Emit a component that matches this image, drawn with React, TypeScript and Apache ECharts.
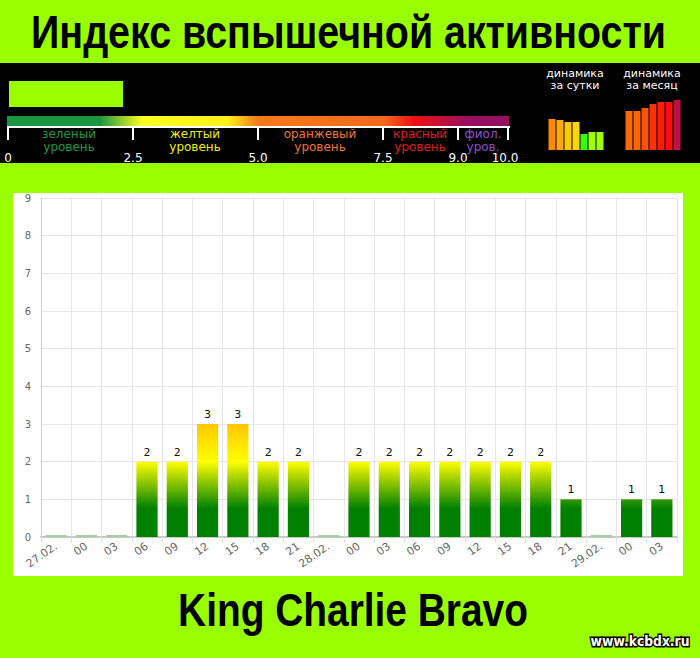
import React, { useEffect, useRef } from "react";
import * as echarts from "echarts";

// ---- data ----
const categories = ["27.02.", "00", "03", "06", "09", "12", "15", "18", "21", "28.02.", "00", "03", "06", "09", "12", "15", "18", "21", "29.02.", "00", "03"];
const flareValues = [0, 0, 0, 2, 2, 3, 3, 2, 2, 0, 2, 2, 2, 2, 2, 2, 2, 1, 0, 1, 1];
const yTicks = [0, 1, 2, 3, 4, 5, 6, 7, 8, 9];
const currentIndex = [2.28];
const dayDynamics = [31, 30, 28, 28, 16, 18, 18];
const dayColors = ["#ff8a00", "#ffaa00", "#ffc800", "#ffd700", "#33ff00", "#a0ff00", "#a0ff00"];
const monthDynamics = [39, 39, 42, 46, 48, 48, 51];
const monthColors = ["#ff6a00", "#ff6600", "#ff5200", "#ff3300", "#ff1e00", "#ff0c0c", "#c0104a"];
const scaleTicks = ["0", "2.5", "5.0", "7.5", "9.0", "10.0"];
const scaleTickX = [8, 133, 258, 383, 458, 508];
const levelNames = [
  { text: "зеленый\nуровень", color: "#1e9a44", x: 69 },
  { text: "желтый\nуровень", color: "#f0f000", x: 195 },
  { text: "оранжевый\nуровень", color: "#f07428", x: 320 },
  { text: "красный\nуровень", color: "#e41a1a", x: 420 },
  { text: "фиол.\nуров.", color: "#9050c8", x: 483 },
];
const dynLabels = [
  { text: "динамика\nза сутки", x: 575 },
  { text: "динамика\nза месяц", x: 652 },
];
const TITLE = "Индекс вспышечной активности";
const SUBTITLE = "King Charlie Bravo";
const SITE = "www.kcbdx.ru";

const KEYS: { v: number; c: number[] }[] = [
  { v: 0, c: [0, 128, 0] },
  { v: 0.75, c: [0, 128, 0] },
  { v: 2, c: [255, 255, 0] },
  { v: 3, c: [255, 198, 0] },
  { v: 9, c: [255, 90, 0] },
];

function colorAt(u: number): string {
  for (let i = 0; i < KEYS.length - 1; i++) {
    const a = KEYS[i], b = KEYS[i + 1];
    if (u >= a.v && u <= b.v) {
      const t = (u - a.v) / (b.v - a.v || 1);
      const c = a.c.map((x, k) => Math.round(x + (b.c[k] - x) * t));
      return `rgb(${c[0]},${c[1]},${c[2]})`;
    }
  }
  const l = KEYS[KEYS.length - 1].c;
  return `rgb(${l[0]},${l[1]},${l[2]})`;
}

function gradientFor(v: number) {
  const stops: { offset: number; color: string }[] = [{ offset: 0, color: colorAt(v) }];
  KEYS.filter((k) => k.v > 0 && k.v < v)
    .sort((a, b) => b.v - a.v)
    .forEach((k) => stops.push({ offset: 1 - k.v / v, color: colorAt(k.v) }));
  stops.push({ offset: 1, color: colorAt(0) });
  return new echarts.graphic.LinearGradient(0, 0, 0, 1, stops);
}

function fitScale(text: string, font: string, target: number): number {
  const ctx = document.createElement("canvas").getContext("2d");
  if (!ctx) return 1;
  ctx.font = font;
  const w = ctx.measureText(text).width;
  return w > 0 ? target / w : 1;
}

const centered = { align: "center", verticalAlign: "middle", textAlign: "center", textVerticalAlign: "middle" };

export default function App() {
  const ref = useRef<HTMLDivElement>(null);
  useEffect(() => {
    if (!ref.current) return;
    const chart = echarts.init(ref.current, null, { renderer: "svg" });
    const titleFont = 'bold 46px "Liberation Sans"';
    const subFont = 'bold 46px "Liberation Sans"';
    const siteFont = 'bold 14px "DejaVu Sans"';
    const levelFont = '12px "DejaVu Sans"';
    const tickFont = '12px "DejaVu Sans"';
    const dynFont = '11px "DejaVu Sans"';

    const graphics: any[] = [
      { type: "rect", z: -10, shape: { x: 0, y: 63, width: 700, height: 100 }, style: { fill: "#000" } },
      { type: "rect", z: -10, shape: { x: 13, y: 193, width: 670, height: 383 }, style: { fill: "#fff" } },
      {
        type: "rect",
        shape: { x: 7, y: 116, width: 502, height: 10 },
        style: {
          fill: new echarts.graphic.LinearGradient(0, 0, 1, 0, [
            { offset: 0, color: "#1a9640" },
            { offset: 0.185, color: "#1a9640" },
            { offset: 0.27, color: "#ffff20" },
            { offset: 0.44, color: "#fff01a" },
            { offset: 0.5, color: "#f27a1b" },
            { offset: 0.75, color: "#f26a1b" },
            { offset: 0.81, color: "#ee1010" },
            { offset: 0.92, color: "#951060" },
            { offset: 1, color: "#951060" },
          ]),
        },
      },
      { type: "rect", shape: { x: 7, y: 126, width: 503, height: 2 }, style: { fill: "#fff" } },
      ...scaleTickX.map((x) => ({ type: "rect", shape: { x: x - 1, y: 126, width: 2, height: 14 }, style: { fill: "#fff" } })),
      ...scaleTicks.map((t, i) => ({
        type: "text",
        x: i === 5 ? 505 : scaleTickX[i],
        y: 158,
        style: { text: t, font: tickFont, fill: "#fff", ...centered },
      })),
      ...levelNames.map((lv) => ({
        type: "text",
        x: lv.x,
        y: 140.5,
        style: { text: lv.text, font: levelFont, lineHeight: 12.5, fill: lv.color, ...centered },
      })),
      ...dynLabels.map((d) => ({
        type: "text",
        x: d.x,
        y: 79.5,
        style: { text: d.text, font: dynFont, lineHeight: 11.5, fill: "#fff", ...centered },
      })),
      {
        type: "text",
        x: 348.5,
        y: 31.5,
        scaleX: fitScale(TITLE, titleFont, 635),
        style: { text: TITLE, font: titleFont, fill: "#000", ...centered },
      },
      {
        type: "text",
        x: 353,
        y: 610,
        scaleX: fitScale(SUBTITLE, subFont, 350),
        style: { text: SUBTITLE, font: subFont, fill: "#000", ...centered },
      },
      {
        type: "text",
        x: 640,
        y: 641,
        scaleX: fitScale(SITE, siteFont, 99),
        style: { text: SITE, font: siteFont, fill: "#fff", stroke: "#000", lineWidth: 3, strokeFirst: true, ...centered },
      },
    ];

    chart.setOption({
      animation: false,
      backgroundColor: "#99ff00",
      graphic: { elements: graphics },
      grid: [
        { left: 41, right: 23, top: 198, bottom: 121, containLabel: false },
        { left: 548, width: 56, top: 100, height: 50 },
        { left: 625, width: 56, top: 100, height: 50 },
        { left: 9, width: 500, top: 81, height: 26 },
      ],
      xAxis: [
        {
          type: "category",
          gridIndex: 0,
          data: categories,
          axisLine: { show: true, lineStyle: { color: "#c8c8c8", width: 2 } },
          axisTick: { show: true, length: 6, lineStyle: { color: "#e0e0e0" } },
          splitLine: { show: true, lineStyle: { color: "#e6e6e6", width: 1 } },
          axisLabel: { rotate: 35, margin: 8, color: "#666", fontSize: 11, fontFamily: "DejaVu Sans", interval: 0 },
        },
        { type: "category", gridIndex: 1, data: dayDynamics.map((_, i) => String(i)), show: false },
        { type: "category", gridIndex: 2, data: monthDynamics.map((_, i) => String(i)), show: false },
        { type: "value", gridIndex: 3, min: 0, max: 10, show: false },
      ],
      yAxis: [
        {
          type: "value",
          gridIndex: 0,
          min: yTicks[0],
          max: yTicks[yTicks.length - 1],
          interval: 1,
          axisLine: { show: true, lineStyle: { color: "#d0d0d0" } },
          axisTick: { show: false },
          splitLine: { show: true, lineStyle: { color: "#e6e6e6" } },
          axisLabel: { color: "#666", fontSize: 10, fontFamily: "DejaVu Sans", margin: 10 },
        },
        { type: "value", gridIndex: 1, min: 0, max: 50, show: false },
        { type: "value", gridIndex: 2, min: 0, max: 50, show: false },
        { type: "category", gridIndex: 3, data: ["index"], show: false },
      ],
      series: [
        {
          type: "bar",
          xAxisIndex: 0,
          yAxisIndex: 0,
          barWidth: "70%",
          barMinHeight: 2,
          data: flareValues.map((v) => ({
            value: v,
            itemStyle: { color: v === 0 ? "#a8cca0" : gradientFor(v) },
          })),
          label: {
            show: true,
            position: "top",
            distance: 4,
            color: "#111",
            fontSize: 11,
            fontFamily: "DejaVu Sans",
            formatter: (p: any) => (p.value === 0 ? "" : String(p.value)),
          },
        },
        {
          type: "bar",
          xAxisIndex: 1,
          yAxisIndex: 1,
          barWidth: 7,
          data: dayDynamics.map((v, i) => ({ value: v, itemStyle: { color: dayColors[i] } })),
        },
        {
          type: "bar",
          xAxisIndex: 2,
          yAxisIndex: 2,
          barWidth: 7,
          data: monthDynamics.map((v, i) => ({ value: v, itemStyle: { color: monthColors[i] } })),
        },
        {
          type: "bar",
          xAxisIndex: 3,
          yAxisIndex: 3,
          barWidth: 26,
          data: currentIndex,
          itemStyle: { color: "#99ff00" },
        },
      ],
    });
    return () => chart.dispose();
  }, []);
  return <div ref={ref} style={{ position: "absolute", left: 0, top: 0, width: 700, height: 658 }} />;
}
